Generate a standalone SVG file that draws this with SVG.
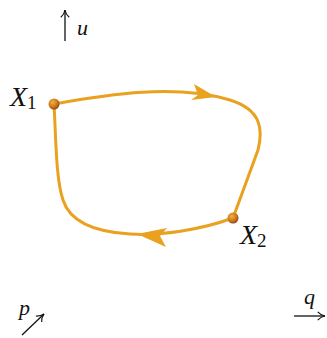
<svg xmlns="http://www.w3.org/2000/svg" width="327" height="338" viewBox="0 0 327 338">
<style>
.lbl{font-family:"Liberation Serif","DejaVu Serif",serif;font-style:italic;fill:#111}
.sub{font-family:"Liberation Serif","DejaVu Serif",serif;font-style:normal;fill:#111}
.ax{stroke:#111;stroke-width:1.3;fill:none}
.loop{stroke:#E9A11F;stroke-width:3;fill:none}
.head{fill:#E9A11F}
</style>
<defs>
<radialGradient id="ball" cx="0.38" cy="0.35" r="0.7">
<stop offset="0" stop-color="#F2B040"/>
<stop offset="0.6" stop-color="#C97A1A"/>
<stop offset="1" stop-color="#8A3E10"/>
</radialGradient>
<marker id="ah" viewBox="0 0 10 10" refX="9" refY="5" markerWidth="8" markerHeight="8" orient="auto">
<path d="M2,1 Q5,4.3 9,5 Q5,5.7 2,9" fill="none" stroke="#111" stroke-width="1.1"/>
</marker>
</defs>
<g id="connectors">
<path class="loop" d="M54,104 C110,94 175,84 230,100 C262,110 263,130 258,150 L233,218 C200,230 160,236 130,234 C95,232 70,222 63,200 C56,180 56,140 54,104 Z"/>
<polygon class="head" points="216,97 194,84 198,95 191,100"/>
<polygon class="head" points="137,234 167,228 160,236 166,247"/>
</g>
<g id="X1">
<circle cx="54" cy="104" r="5.5" fill="url(#ball)"/>
<text class="lbl" x="10" y="106" font-size="28">X<tspan class="sub" font-size="19" dy="3">1</tspan></text>
</g>
<g id="X2">
<circle cx="233" cy="218" r="5.5" fill="url(#ball)"/>
<text class="lbl" x="240" y="244" font-size="28">X<tspan class="sub" font-size="19" dy="3">2</tspan></text>
</g>
<g id="axis-u">
<line class="ax" x1="65" y1="41" x2="65" y2="10" marker-end="url(#ah)"/>
<text class="lbl" x="77" y="35" font-size="22">u</text>
</g>
<g id="axis-p">
<line class="ax" x1="22" y1="335" x2="44" y2="314" marker-end="url(#ah)"/>
<text class="lbl" x="19" y="315" font-size="22">p</text>
</g>
<g id="axis-q">
<line class="ax" x1="294" y1="316" x2="325" y2="316" marker-end="url(#ah)"/>
<text class="lbl" x="304" y="304" font-size="22">q</text>
</g>
</svg>
